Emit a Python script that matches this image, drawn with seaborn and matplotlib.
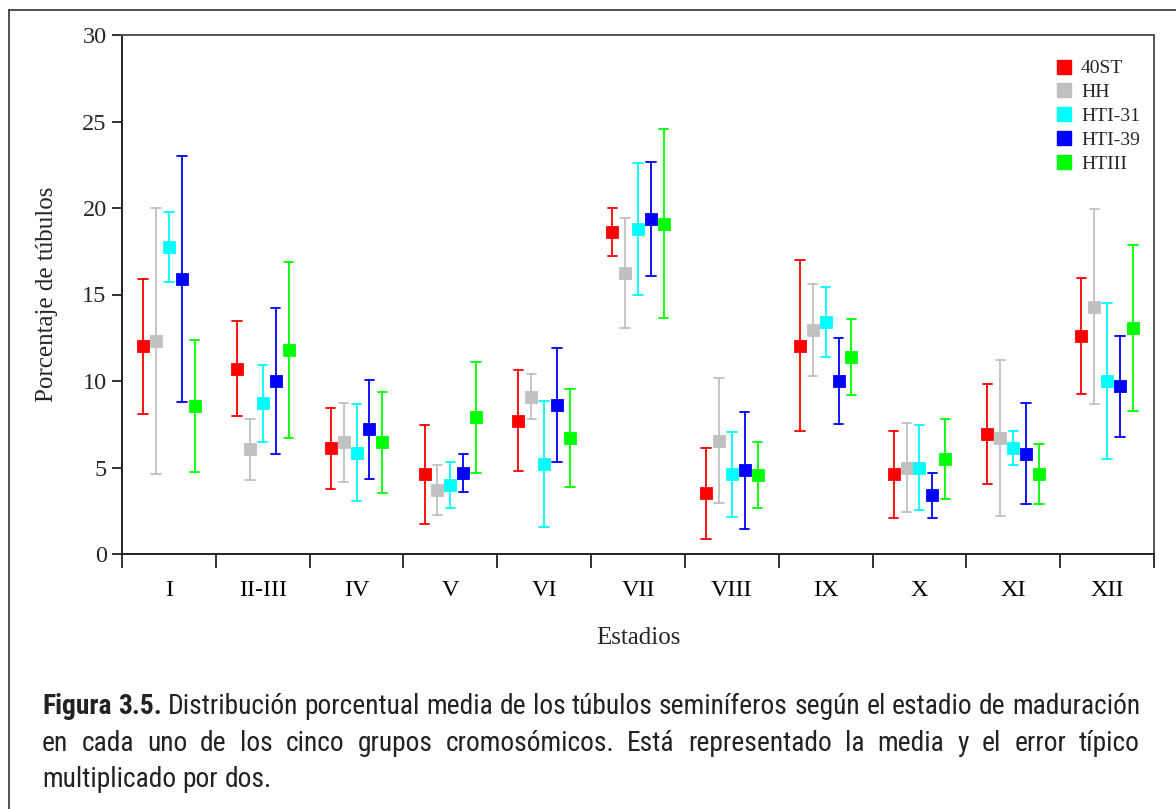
import numpy as np
import pandas as pd
import matplotlib
matplotlib.use("Agg")
import matplotlib.pyplot as plt
import seaborn as sns
from matplotlib.lines import Line2D
from matplotlib import font_manager

# ---------------- data ----------------
stages = ['I', 'II-III', 'IV', 'V', 'VI', 'VII', 'VIII', 'IX', 'X', 'XI', 'XII']
groups = ['40ST', 'HH', 'HTI-31', 'HTI-39', 'HTIII']
colors = ['#FF0000', '#C0C0C0', '#00FFFF', '#0000FF', '#00FF00']

mean_40ST = [12.0, 10.7, 6.1, 4.6, 7.7, 18.6, 3.5, 12.05, 4.6, 6.95, 12.6]
err_40ST = [3.9, 2.75, 2.35, 2.87, 2.93, 1.4, 2.62, 4.96, 2.52, 2.89, 3.34]
mean_HH = [12.3, 6.05, 6.45, 3.7, 9.1, 16.25, 6.55, 12.95, 5.0, 6.7, 14.3]
err_HH = [7.7, 1.75, 2.28, 1.47, 1.3, 3.2, 3.6, 2.66, 2.6, 4.5, 5.65]
mean_HTI31 = [17.75, 8.7, 5.85, 4.0, 5.2, 18.8, 4.6, 13.4, 5.0, 6.15, 10.0]
err_HTI31 = [2.0, 2.2, 2.8, 1.32, 3.63, 3.8, 2.45, 2.03, 2.46, 0.98, 4.5]
mean_HTI39 = [15.9, 10.0, 7.2, 4.7, 8.6, 19.35, 4.85, 10.0, 3.4, 5.8, 9.7]
err_HTI39 = [7.1, 4.2, 2.85, 1.09, 3.3, 3.3, 3.38, 2.49, 1.3, 2.9, 2.93]
mean_HTIII = [8.55, 11.8, 6.45, 7.9, 6.7, 19.1, 4.55, 11.4, 5.5, 4.6, 13.05]
err_HTIII = [3.8, 5.1, 2.9, 3.22, 2.83, 5.46, 1.9, 2.19, 2.31, 1.73, 4.79]

means = [mean_40ST, mean_HH, mean_HTI31, mean_HTI39, mean_HTIII]
errs = [err_40ST, err_HH, err_HTI31, err_HTI39, err_HTIII]

y_label = 'Porcentaje de túbulos'
x_label = 'Estadios'
caption_lines = [
    [('Figura', True), ('3.5.', True), ('Distribución', False), ('porcentual', False), ('media', False),
     ('de', False), ('los', False), ('túbulos', False), ('seminíferos', False), ('según', False),
     ('el', False), ('estadio', False), ('de', False), ('maduración', False)],
    [(w, False) for w in 'en cada uno de los cinco grupos cromosómicos. Está representado la media y el error típico'.split()],
    [(w, False) for w in 'multiplicado por dos.'.split()],
]

# long table: each cell as (mean - err, mean + err) -> mean estimator, full-range interval
rows = []
for g, ms, es in zip(groups, means, errs):
    for s, m, e in zip(stages, ms, es):
        rows.append({'stage': s, 'group': g, 'value': m - e})
        rows.append({'stage': s, 'group': g, 'value': m + e})
df = pd.DataFrame(rows)

# ---------------- figure ----------------
sns.set_style('ticks')
plt.rcParams['font.family'] = ['Liberation Serif', 'DejaVu Serif']

W, H = 1176, 809
fig = plt.figure(figsize=(W / 100, H / 100), dpi=100)
ax = fig.add_axes([122 / W, 1 - 554 / H, (1154 - 122) / W, (554 - 35) / H])

sns.pointplot(data=df, x='stage', y='value', hue='group', order=stages, hue_order=groups,
              palette=colors, estimator='mean', errorbar=('pi', 100), dodge=0.55,
              linestyle='none', markers='s', markersize=7.3, capsize=0.1,
              err_kws={'linewidth': 1.3}, ax=ax, legend=False)

ax.set_ylim(0, 30)
ax.set_yticks(np.arange(0, 31, 5))
ax.set_xlim(-0.5, len(stages) - 0.5)
ax.set_xticks(range(len(stages)))
ax.set_xticklabels(stages)
ax.set_xticks(np.arange(-0.5, len(stages), 1.0), minor=True)
ax.tick_params(axis='x', which='major', length=0, pad=19, labelsize=17.5, colors='black')
ax.tick_params(axis='x', which='minor', length=10, width=1.3, direction='out', color='#222222')
ax.tick_params(axis='y', length=7, width=1.3, direction='out', pad=4, labelsize=17.5, color='#222222')

for sp in ax.spines.values():
    sp.set_visible(True)
    sp.set_linewidth(1.4)
    sp.set_color('#222222')
for sp in ['top', 'right']:
    ax.spines[sp].set_color('#555555')

ax.set_xlabel(x_label, fontsize=18)
ax.set_ylabel(y_label, fontsize=18)
ax.xaxis.set_label_coords(0.5, (554 - 627) / 519)
ax.yaxis.set_label_coords((58 - 122) / 1032, 0.5)

handles = [Line2D([], [], marker='s', color=c, linestyle='none', markersize=9.5) for c in colors]
ax.legend(handles, groups, loc='upper left', bbox_to_anchor=(1046 / W, 1 - 50 / H),
          bbox_transform=fig.transFigure, frameon=False, fontsize=14, handlelength=0.8,
          handletextpad=0.5, labelspacing=0.32, borderpad=0)

# outer frame
fig.add_artist(Line2D([9 / W, 9 / W], [1 - 10 / H, 0], transform=fig.transFigure, color='#333333', lw=1.2))
fig.add_artist(Line2D([9 / W, 1.0], [1 - 10 / H, 1 - 10 / H], transform=fig.transFigure, color='#333333', lw=1.2))

# ---------------- caption (justified) ----------------
available = {f.name for f in font_manager.fontManager.ttflist}
cap_family = [f for f in ['Liberation Sans Narrow', 'Roboto Condensed', 'DejaVu Sans Condensed',
                          'Liberation Sans', 'DejaVu Sans'] if f in available]
x_left, x_right = 42, 1140
baselines = [714, 751, 787]
renderer = fig.canvas.get_renderer()


def word_widths(words, size):
    out = []
    for w, b in words:
        t = fig.text(0, 0, w, fontsize=size, family=cap_family, fontweight='bold' if b else 'normal')
        out.append(t.get_window_extent(renderer).width)
        t.remove()
    return out


trial = 18.0
ws = word_widths(caption_lines[0], trial)
sp_t = fig.text(0, 0, 'a a', fontsize=trial, family=cap_family)
aa = sp_t.get_window_extent(renderer).width
sp_t.remove()
sp_t = fig.text(0, 0, 'aa', fontsize=trial, family=cap_family)
space_w = aa - sp_t.get_window_extent(renderer).width
sp_t.remove()
natural = sum(ws) + space_w * (len(ws) - 1)
cap_size = trial * (x_right - x_left) / natural
space_w *= cap_size / trial

for i, (words, yb) in enumerate(zip(caption_lines, baselines)):
    ws = word_widths(words, cap_size)
    if i < 2 and len(words) > 1:
        gap = ((x_right - x_left) - sum(ws)) / (len(words) - 1)
    else:
        gap = space_w
    x = x_left
    for (w, b), wd in zip(words, ws):
        fig.text(x / W, 1 - yb / H, w, fontsize=cap_size, family=cap_family,
                 fontweight='bold' if b else 'normal', color='#222222', va='baseline', ha='left')
        x += wd + gap

fig.savefig('out.png', dpi=100)
